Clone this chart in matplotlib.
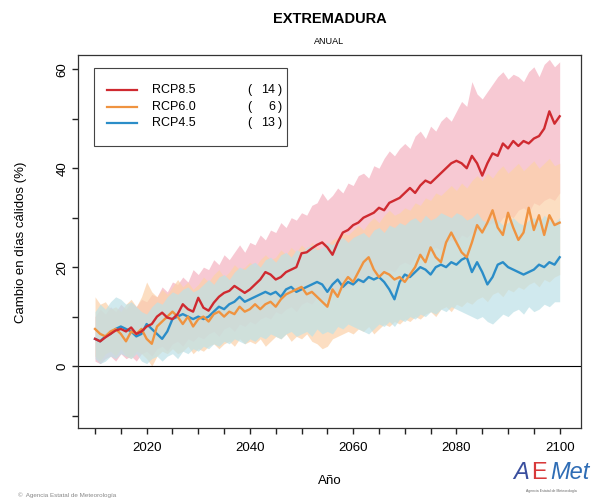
import numpy as np
import matplotlib.pyplot as plt
from matplotlib.patches import Rectangle

plt.rcParams['font.family'] = ['Liberation Sans', 'DejaVu Sans']

# Datos
anios = list(range(2010, 2101))

rcp85_media = [5.5, 5.0, 5.8, 6.5, 7.2, 7.5, 7.0, 7.8, 6.5, 7.0,
               8.0, 8.5, 10.0, 10.8, 9.8, 9.5, 10.5, 12.5, 11.5, 11.0,
               13.8, 11.8, 11.2, 12.8, 14.0, 14.8, 15.2, 16.2, 15.5, 14.8,
               15.5, 16.5, 17.5, 19.0, 18.5, 17.5, 18.0, 19.0, 19.5, 20.0,
               22.8, 23.0, 23.8, 24.5, 25.0, 24.0, 22.5, 25.0, 27.0, 27.5,
               28.5, 29.0, 30.0, 30.5, 31.0, 32.0, 31.5, 33.0, 33.5, 34.0,
               35.0, 36.0, 35.0, 36.5, 37.5, 37.0, 38.0, 39.0, 40.0, 41.0,
               41.5, 41.0, 40.0, 42.5, 41.0, 38.5, 41.0, 43.0, 42.5, 45.0,
               44.0, 45.5, 44.5, 45.5, 45.0, 46.0, 46.5, 48.0, 51.5, 49.0,
               50.5]
rcp85_min = [1.0, 0.5, 1.5, 2.0, 1.0, 2.5, 1.5, 2.0, 1.0, 2.5,
             3.0, 2.0, 3.5, 4.0, 3.0, 4.5, 5.0, 4.0, 5.5, 5.0,
             6.0, 5.5, 6.5, 7.0, 6.0, 7.5, 8.0, 7.0, 8.5, 8.0,
             9.0, 8.5, 9.5, 10.0, 9.5, 11.0, 10.5, 11.5, 12.0, 11.0,
             12.5, 13.0, 12.5, 14.0, 13.5, 13.0, 14.5, 15.0, 15.5, 16.0,
             16.5, 17.0, 16.5, 18.0, 18.5, 18.0, 19.0, 19.5, 19.0, 20.5,
             21.0, 20.5, 22.0, 22.5, 22.0, 23.5, 24.0, 23.5, 25.0, 25.5,
             25.0, 26.5, 26.0, 27.0, 27.5, 27.0, 28.5, 29.0, 28.5, 30.0,
             30.5, 30.0, 31.5, 32.0, 31.0, 33.0, 32.5, 33.5, 34.0, 33.5,
             35.0]
rcp85_max = [10.0, 11.5, 10.5, 12.0, 11.0, 12.5, 11.5, 13.0, 12.0, 13.5,
             13.0, 14.5, 14.0, 16.0, 15.0, 17.0, 16.5, 18.0, 17.0, 19.5,
             18.5, 20.0, 19.5, 21.5, 20.5, 22.5, 21.5, 23.0, 24.5, 23.0,
             25.0, 24.5, 26.5, 25.5, 27.5, 27.0, 29.0, 28.0, 30.0, 29.5,
             31.0, 30.5, 32.5, 33.0, 35.0, 33.5, 34.5, 36.0, 35.0, 37.0,
             36.5, 38.5, 39.0, 38.0, 40.5, 40.0, 42.0, 43.5, 42.5, 44.0,
             45.0, 44.0, 46.5, 47.5, 46.0, 48.5, 47.5, 49.5, 50.5, 49.5,
             51.5, 53.5, 52.5, 57.5, 55.0, 54.0, 55.5, 57.0, 58.5, 59.5,
             58.0, 59.0, 58.5, 57.5, 59.5, 60.5, 58.5, 61.0, 62.0, 60.5,
             61.5]

rcp60_media = [7.5, 6.5, 6.0, 7.0, 7.5, 6.5, 5.0, 7.0, 6.5, 7.5,
               5.5, 4.5, 8.0, 9.0, 10.0, 11.0, 10.0, 8.5, 10.0, 8.0,
               9.5, 10.0, 9.0, 10.5, 11.0, 10.0, 11.0, 10.5, 12.0, 11.0,
               11.5, 12.5, 11.5, 12.5, 13.0, 12.0, 13.5, 14.5, 15.0, 15.5,
               16.0, 14.5, 15.0, 14.0, 13.0, 12.0, 15.5, 14.0, 16.5, 18.0,
               17.0, 19.0, 21.0, 22.0, 19.5, 18.0, 19.0, 18.5, 17.5, 18.0,
               17.0, 18.5, 20.0, 22.5, 21.0, 24.0, 22.0, 21.0, 25.0, 27.0,
               25.0, 23.0, 22.0, 25.0, 28.5, 27.0, 29.0, 31.5, 28.0, 26.5,
               31.0, 28.0, 25.5, 27.0, 32.0, 27.5, 30.5, 26.5, 30.5, 28.5,
               29.0]
rcp60_min = [2.0, 1.0, 2.5, 3.0, 2.0, 3.5, 2.0, 1.5, 3.0, 2.5,
             1.5, 0.0, 2.0, 3.0, 2.5, 3.5, 2.5, 3.0, 4.0, 2.5,
             3.5, 3.0, 4.0, 4.5, 3.5, 4.5, 5.0, 4.0, 5.5, 4.5,
             5.0, 4.5, 5.5, 4.0, 5.0, 6.0, 5.5, 6.5, 5.0, 6.0,
             5.5, 6.5, 5.0, 4.5, 3.5, 4.0, 5.5, 6.0, 6.5, 7.0,
             6.5, 7.5, 7.0, 8.0, 6.5, 7.5, 8.5, 8.0, 9.0, 8.5,
             9.5, 9.0, 10.0, 9.5, 10.5, 11.0, 10.0, 11.5, 12.0, 11.0,
             12.5, 12.0, 13.0, 12.5, 13.5, 14.0, 13.0, 14.5, 15.0, 14.0,
             15.5, 15.0, 16.0, 15.5, 16.5, 17.0, 16.0, 17.5, 17.0, 18.0,
             18.5]
rcp60_max = [14.0, 12.5, 13.0, 11.5, 12.0, 11.0, 12.5, 13.5, 12.0, 14.0,
             17.0, 15.0, 14.0, 15.5, 14.5, 16.0, 17.5, 16.0, 17.0, 15.5,
             16.5, 18.0, 17.0, 18.5, 19.5, 18.0, 19.0, 20.5, 19.5, 20.0,
             21.0, 20.0, 21.5, 22.5, 21.5, 22.0, 23.5, 22.5, 24.0, 23.0,
             24.5, 23.5, 25.0, 24.0, 23.5, 24.5, 25.5, 26.0, 27.0, 26.5,
             27.5, 28.5, 27.5, 29.0, 30.0, 29.0, 30.5, 31.5, 30.5, 31.0,
             32.0, 31.5, 33.0, 32.5, 34.0, 33.5, 35.0, 34.5, 35.5, 36.5,
             35.5, 37.0, 36.0, 37.5, 38.5, 37.5, 39.0, 38.0, 39.5, 40.5,
             39.0, 40.0, 41.0, 39.5, 40.5, 41.5, 40.0, 41.0, 42.0, 40.5,
             41.0]

rcp45_media = [5.5, 5.0, 6.0, 6.5, 7.5, 8.0, 7.5, 7.0, 6.0, 6.5,
               8.5, 7.5, 6.5, 5.5, 7.0, 9.5, 10.0, 10.5, 10.0, 9.5,
               10.0, 9.5, 10.0, 11.0, 12.0, 11.5, 12.5, 13.0, 14.0, 13.0,
               13.5, 14.0, 14.5, 15.0, 14.5, 15.0, 14.0, 15.5, 16.0, 15.0,
               15.5, 16.0, 16.5, 17.0, 16.5, 15.0, 16.5, 17.5, 16.0, 17.0,
               16.5, 17.5, 17.0, 18.0, 17.5, 18.0, 17.0, 15.5, 13.5, 17.0,
               18.5, 18.0, 19.0, 20.0, 19.5, 18.5, 20.0, 20.5, 20.0, 21.0,
               20.5, 21.5, 22.0, 19.0, 21.0, 19.0, 16.5, 18.0, 20.5, 21.0,
               20.0, 19.5, 19.0, 18.5, 19.0, 19.5, 20.5, 20.0, 21.0, 20.5,
               22.0]
rcp45_min = [1.5, 0.5, 1.0, 2.0, 1.5, 2.5, 2.0, 1.5, 2.5, 1.0,
             0.5, 1.5, 2.0, 1.0, 2.0, 2.5, 1.5, 3.0, 2.5, 3.5,
             3.0, 4.0, 3.5, 4.5, 4.0, 5.0, 4.5, 5.5, 5.0, 4.5,
             5.5, 5.0, 6.0, 5.5, 6.5, 6.0, 5.5, 6.5, 7.0, 6.0,
             6.5, 7.0, 6.0, 7.5, 6.5, 7.0, 6.5, 8.0, 7.5, 8.5,
             8.0, 7.5, 7.0, 6.5, 7.5, 8.5, 8.0, 9.0, 8.0, 9.5,
             9.0, 10.0, 9.5, 10.5, 10.0, 11.0, 10.5, 11.5, 11.0, 12.0,
             11.5, 11.0, 10.5, 10.0, 9.5, 10.0, 9.0, 8.5, 9.5, 10.5,
             10.0, 11.0, 11.5, 10.5, 12.0, 11.0, 11.5, 12.5, 12.0, 13.0,
             13.0]
rcp45_max = [11.0, 12.5, 11.5, 13.0, 14.0, 13.5, 12.5, 13.0, 12.0, 11.0,
             10.5, 12.0, 13.0, 12.5, 14.0, 15.0, 14.5, 15.5, 16.0, 15.0,
             15.5, 16.5, 17.5, 16.5, 18.0, 18.5, 17.5, 19.0, 20.0, 19.5,
             20.5, 21.0, 20.0, 21.5, 22.0, 21.0, 22.5, 23.0, 22.0, 23.5,
             23.0, 24.0, 24.5, 23.5, 24.0, 25.0, 24.5, 25.5, 26.0, 25.0,
             26.0, 26.5, 27.0, 26.0, 27.5, 28.0, 27.0, 28.5, 28.0, 29.0,
             28.5, 29.5, 30.0, 29.0, 30.5, 29.5, 30.0, 31.0, 30.5, 30.0,
             31.0, 30.5, 29.5, 30.0, 31.0, 29.5, 29.0, 30.0, 29.5, 28.5,
             29.0, 30.0, 29.0, 28.5, 29.5, 30.0, 29.0, 30.5, 29.5, 29.0,
             30.0]

escenarios = ['RCP8.5', 'RCP6.0', 'RCP4.5']
n_modelos = ['14', '6', '13']

# colores
col_linea = {'RCP8.5': '#cf2a30', 'RCP6.0': '#ef9340', 'RCP4.5': '#2b8dc8'}
col_banda = {'RCP8.5': '#f7c3cf', 'RCP6.0': '#fcd1a8', 'RCP4.5': '#bde1e7'}
alfa_banda = {'RCP8.5': 0.9, 'RCP6.0': 0.7, 'RCP4.5': 0.7}

series = {
    'RCP8.5': (rcp85_media, rcp85_min, rcp85_max),
    'RCP6.0': (rcp60_media, rcp60_min, rcp60_max),
    'RCP4.5': (rcp45_media, rcp45_min, rcp45_max),
}

fig = plt.figure(figsize=(5.93, 5.04), dpi=100)
ax = fig.add_axes([0.1315, 0.151, 0.848, 0.740])

# bandas
for esc in escenarios:
    media, lo, hi = series[esc]
    ax.fill_between(anios, lo, hi, color=col_banda[esc], alpha=alfa_banda[esc], lw=0)

# lineas medias
for esc in ['RCP4.5', 'RCP6.0', 'RCP8.5']:
    media, lo, hi = series[esc]
    ax.plot(anios, media, color=col_linea[esc], lw=1.7)

ax.axhline(0, color='black', lw=0.8)

ax.set_xlim(2006.7, 2104.1)
ax.set_ylim(-12.5, 62.9)

xt = list(range(2010, 2101, 5))
ax.set_xticks(xt)
ax.set_xticklabels([str(a) if a % 20 == 0 else '' for a in xt], fontsize=9.5)
yt = list(range(-10, 61, 10))
ax.set_yticks(yt)
ax.set_yticklabels([str(v) if v % 20 == 0 else '' for v in yt], fontsize=9.5,
                   rotation=90, va='center')
ax.tick_params(axis='x', length=4, width=1, pad=6, color='#222222')
ax.tick_params(axis='y', length=4, width=1, pad=3, color='#222222')
for s in ax.spines.values():
    s.set_linewidth(0.9)
    s.set_color('#333333')

# leyenda manual
ax.add_patch(Rectangle((0.032, 0.756), 0.383, 0.209, transform=ax.transAxes,
                       fill=False, lw=0.8, ec='#444444'))
ys = [0.906, 0.861, 0.818]
for esc, n, yy in zip(escenarios, n_modelos, ys):
    ax.plot([0.058, 0.117], [yy, yy], transform=ax.transAxes,
            color=col_linea[esc], lw=1.6)
    ax.text(0.147, yy, esc, transform=ax.transAxes, fontsize=9, va='center')
    ax.text(0.336, yy, '(', transform=ax.transAxes, fontsize=9, va='center')
    ax.text(0.392, yy, n, transform=ax.transAxes, fontsize=9, va='center', ha='right')
    ax.text(0.398, yy, ')', transform=ax.transAxes, fontsize=9, va='center')

# textos
fig.text(0.5557, 0.962, 'EXTREMADURA', ha='center', va='center',
         fontsize=10.5, fontweight='bold')
fig.text(0.5557, 0.917, 'ANUAL', ha='center', va='center', fontsize=6.5)
fig.text(0.036, 0.52, 'Cambio en días cálidos (%)', rotation=90,
         ha='center', va='center', fontsize=9.5)
fig.text(0.5557, 0.045, 'Año', ha='center', va='center', fontsize=9.5)
fig.text(0.03, 0.018, '©  Agencia Estatal de Meteorología', ha='left',
         va='center', fontsize=4.5, color='#888888')

# logo aproximado
fig.text(0.866, 0.05, 'A', ha='left', va='baseline', fontsize=17,
         style='italic', color='#3a4f9e')
fig.text(0.896, 0.05, 'E', ha='left', va='baseline', fontsize=17,
         color='#d8393a')
fig.text(0.928, 0.05, 'Met', ha='left', va='baseline', fontsize=17,
         style='italic', color='#2f6db5')
fig.text(0.93, 0.026, 'Agencia Estatal de Meteorología', ha='center',
         va='center', fontsize=2.5, color='#666666')

fig.savefig('out.png', dpi=100)
